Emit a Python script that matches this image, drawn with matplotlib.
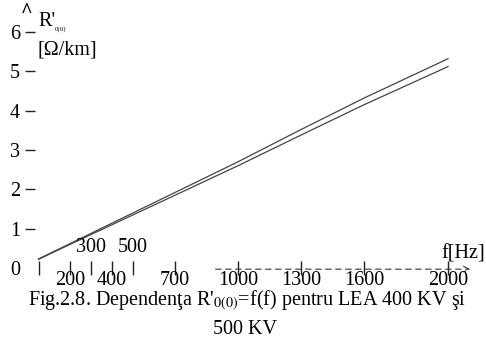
import matplotlib
matplotlib.use("Agg")
import matplotlib.pyplot as plt

plt.rcParams['font.family'] = ['Liberation Serif', 'DejaVu Serif']
plt.rcParams['mathtext.fontset'] = 'stix'

# date
frecvente = [50, 200, 300, 400, 500, 700, 1000, 1300, 1600, 2000]
r_400kv = [0.23, 0.62, 0.88, 1.14, 1.40, 1.92, 2.70, 3.52, 4.32, 5.32]
r_500kv = [0.22, 0.60, 0.85, 1.10, 1.35, 1.85, 2.60, 3.38, 4.15, 5.12]

ticks_x = [50, 200, 300, 400, 500, 700, 1000, 1300, 1600, 2000]
etichete_jos = [200, 400, 700, 1000, 1300, 1600, 2000]
etichete_sus = [300, 500]
ticks_y = [0, 1, 2, 3, 4, 5, 6]

W, H = 486, 343
fs = 14.5
fig = plt.figure(figsize=(W / 100, H / 100), dpi=100)

# axa: 0 Hz la px 28, 2000 Hz la px 448 ; R=0 la py 268, R=6 la py 32
px_hz = 420 / 2000
x0, x1 = 25, 460
xmin = (x0 - 28) / px_hz
xmax = 2000 + (x1 - 448) / px_hz
ax = fig.add_axes([x0 / W, (H - 268) / H, (x1 - x0) / W, 236 / H])
ax.set_xlim(xmin, xmax)
ax.set_ylim(0, 6)
for s in ax.spines.values():
    s.set_visible(False)

ax.plot(frecvente, r_400kv, color='#444444', lw=0.9)
ax.plot(frecvente, r_500kv, color='#444444', lw=0.9)

# axa x, punctata, cu sageata
ax.annotate('', xy=(2120, -0.03), xytext=(880, -0.03), xycoords='data',
            arrowprops=dict(arrowstyle='->', color='#333333', lw=0.8,
                            linestyle=(0, (5, 4))),
            annotation_clip=False)

ax.set_xticks(ticks_x)
ax.set_xticklabels([])
ax.tick_params(axis='x', direction='inout', length=10, width=1.0, color='#222222')

ax.set_yticks(ticks_y)
ax.set_yticklabels([str(v) for v in ticks_y], fontsize=fs)
ax.tick_params(axis='y', direction='in', length=7, width=1.0, pad=3.6,
               color='#222222')
ax.yaxis.get_major_ticks()[0].tick1line.set_visible(False)

for v in etichete_jos:
    ax.text(v, -0.33, str(v), ha='center', va='center', fontsize=fs,
            clip_on=False)
for v in etichete_sus:
    ax.text(v, 0.51, str(v), ha='center', va='center', fontsize=fs,
            clip_on=False)

ax.text(2071, 0.36, 'f[Hz]', ha='center', va='center', fontsize=fs,
        clip_on=False)

fig.text(27 / W, 1 - 12 / H, '^', ha='center', va='center', fontsize=fs,
         fontweight='bold')
fig.text(38 / W, 1 - 21 / H, "R'", ha='left', va='center', fontsize=fs)
fig.text(55 / W, 1 - 29 / H, '0(0)', ha='left', va='center', fontsize=5)
fig.text(37 / W, 1 - 50 / H, '[\u03a9/km]', ha='left', va='center', fontsize=fs)

fig.text(247 / W, 1 - 301 / H,
         "Fig.2.8. Dependen\u0163a R'$_{0(0)}$=f(f) pentru LEA 400 KV \u015fi",
         ha='center', va='center', fontsize=fs)
fig.text(245 / W, 1 - 330 / H, '500 KV', ha='center', va='center', fontsize=fs)

fig.savefig('out.png', dpi=100)
